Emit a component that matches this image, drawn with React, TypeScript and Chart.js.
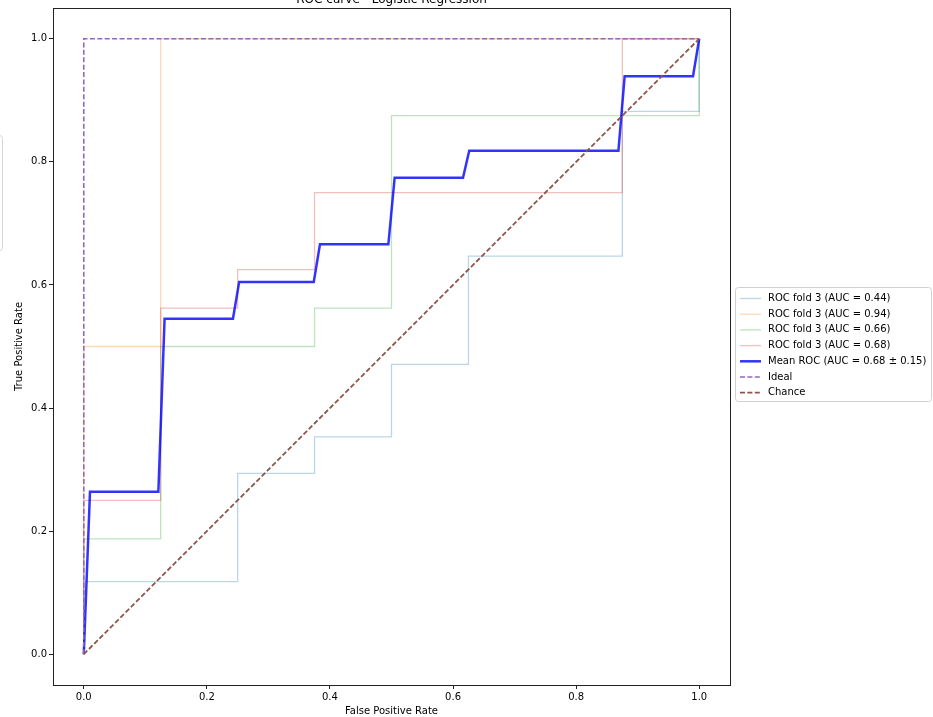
import React, { useEffect, useRef } from "react";
import { Chart, registerables } from "chart.js";

Chart.register(...registerables);

const titleText = "ROC curve - Logistic Regression";
const xLabel = "False Positive Rate";
const yLabel = "True Positive Rate";
const tickValues = [0, 0.2, 0.4, 0.6, 0.8, 1.0];

const fold1Fpr = [0, 0, 0.25, 0.25, 0.375, 0.375, 0.5, 0.5, 0.625, 0.625, 0.875, 0.875, 1, 1];
const fold1Tpr = [0, 0.118, 0.118, 0.294, 0.294, 0.353, 0.353, 0.471, 0.471, 0.647, 0.647, 0.882, 0.882, 1];
const fold2Fpr = [0, 0, 0.125, 0.125, 1];
const fold2Tpr = [0, 0.5, 0.5, 1, 1];
const fold3Fpr = [0, 0, 0.125, 0.125, 0.375, 0.375, 0.5, 0.5, 1, 1];
const fold3Tpr = [0, 0.1875, 0.1875, 0.5, 0.5, 0.5625, 0.5625, 0.875, 0.875, 1];
const fold4Fpr = [0, 0, 0.125, 0.125, 0.25, 0.25, 0.375, 0.375, 0.875, 0.875, 1];
const fold4Tpr = [0, 0.25, 0.25, 0.5625, 0.5625, 0.625, 0.625, 0.75, 0.75, 1, 1];
const meanFpr = [0, 0.0101, 0.1212, 0.1313, 0.2424, 0.2525, 0.3737, 0.3838, 0.4949, 0.5051, 0.6162, 0.6263, 0.8687, 0.8788, 0.9899, 1];
const meanTpr = [0, 0.264, 0.264, 0.545, 0.545, 0.605, 0.605, 0.666, 0.666, 0.774, 0.774, 0.818, 0.818, 0.939, 0.939, 1];
const idealFpr = [0, 0, 1];
const idealTpr = [0, 1, 1];
const chanceFpr = [0, 1];
const chanceTpr = [0, 1];

const seriesLabels = [
  "ROC fold 3 (AUC = 0.44)",
  "ROC fold 3 (AUC = 0.94)",
  "ROC fold 3 (AUC = 0.66)",
  "ROC fold 3 (AUC = 0.68)",
  "Mean ROC (AUC = 0.68 \u00b1 0.15)",
  "Ideal",
  "Chance",
];
const seriesColors = [
  "rgba(31,119,180,0.3)",
  "rgba(255,127,14,0.3)",
  "rgba(44,160,44,0.3)",
  "rgba(214,39,40,0.3)",
  "rgba(0,0,255,0.8)",
  "#9467bd",
  "#8c564b",
];
const seriesWidths = [1.3, 1.3, 1.3, 1.3, 2.5, 1.6, 1.8];
const seriesDashed = [false, false, false, false, false, true, true];

const FONT = "'DejaVu Sans', sans-serif";

function pts(xs: number[], ys: number[]) {
  return xs.map((x, i) => ({ x, y: ys[i] }));
}

const decorPlugin = {
  id: "decor",
  afterDraw(chart: any) {
    const { ctx, chartArea } = chart;
    const { left, right, top, bottom } = chartArea;
    ctx.save();
    // spines
    ctx.strokeStyle = "#222";
    ctx.lineWidth = 1;
    ctx.setLineDash([]);
    ctx.strokeRect(Math.round(left) + 0.5, Math.round(top) + 0.5, Math.round(right - left), Math.round(bottom - top));
    // title
    ctx.fillStyle = "#000";
    ctx.font = `12px ${FONT}`;
    ctx.textAlign = "center";
    ctx.textBaseline = "alphabetic";
    ctx.fillText(titleText, (left + right) / 2, 3);
    // stray clipped legend box on the left
    ctx.strokeStyle = "#d6d6d6";
    ctx.beginPath();
    ctx.roundRect(-30.5, 135.5, 33, 115, 3);
    ctx.stroke();
    // legend
    const lx = 735.5, ly = 287.5, lw = 196, lh = 114;
    ctx.fillStyle = "rgba(255,255,255,0.8)";
    ctx.strokeStyle = "#d0d0d0";
    ctx.beginPath();
    ctx.roundRect(lx, ly, lw, lh, 3);
    ctx.fill();
    ctx.stroke();
    ctx.font = `10px ${FONT}`;
    ctx.textAlign = "left";
    ctx.textBaseline = "middle";
    for (let i = 0; i < seriesLabels.length; i++) {
      const cy = 298.5 + i * 15.7;
      ctx.strokeStyle = seriesColors[i];
      ctx.lineWidth = seriesWidths[i];
      ctx.setLineDash(seriesDashed[i] ? [5, 2.4] : []);
      ctx.beginPath();
      ctx.moveTo(740, cy);
      ctx.lineTo(761, cy);
      ctx.stroke();
      ctx.setLineDash([]);
      ctx.fillStyle = "#000";
      ctx.fillText(seriesLabels[i], 768, cy);
    }
    ctx.restore();
  },
};

export default function App() {
  const ref = useRef<HTMLCanvasElement | null>(null);
  useEffect(() => {
    if (!ref.current) return;
    const xs = [fold1Fpr, fold2Fpr, fold3Fpr, fold4Fpr, meanFpr, idealFpr, chanceFpr];
    const ys = [fold1Tpr, fold2Tpr, fold3Tpr, fold4Tpr, meanTpr, idealTpr, chanceTpr];
    const n = xs.length;
    const datasets = xs.map((x, i) => ({
      label: seriesLabels[i],
      data: pts(x, ys[i]),
      borderColor: seriesColors[i],
      backgroundColor: seriesColors[i],
      borderWidth: seriesWidths[i],
      borderDash: seriesDashed[i] ? [5, 2.4] : [],
      pointRadius: 0,
      showLine: true,
      tension: 0,
      fill: false,
      order: n - 1 - i,
    }));
    const tickCfg = (pad: number) => ({
      color: "#000",
      padding: pad,
      font: { family: FONT, size: 10 },
      callback: (v: any) => Number(v).toFixed(1),
    });
    const chart = new Chart(ref.current, {
      type: "scatter",
      data: { datasets: datasets as any },
      options: {
        animation: false,
        responsive: false,
        devicePixelRatio: 1,
        layout: { padding: { left: 0, top: 7, right: 203, bottom: 0 } },
        plugins: { legend: { display: false }, tooltip: { enabled: false }, title: { display: false } },
        scales: {
          x: {
            type: "linear",
            min: -0.05,
            max: 1.05,
            afterBuildTicks: (s: any) => {
              s.ticks = tickValues.map((v) => ({ value: v }));
            },
            afterFit: (s: any) => {
              s.height = 32;
            },
            grid: { display: true, drawOnChartArea: false, drawTicks: true, tickLength: 4, color: "#222" },
            border: { display: false },
            ticks: tickCfg(2) as any,
            title: { display: true, text: xLabel, color: "#000", font: { family: FONT, size: 10 }, padding: { top: 0, bottom: 0 } },
          },
          y: {
            type: "linear",
            min: -0.05,
            max: 1.05,
            afterBuildTicks: (s: any) => {
              s.ticks = tickValues.map((v) => ({ value: v }));
            },
            afterFit: (s: any) => {
              s.width = 53;
            },
            grid: { display: true, drawOnChartArea: false, drawTicks: true, tickLength: 4, color: "#222" },
            border: { display: false },
            ticks: tickCfg(2) as any,
            title: { display: true, text: yLabel, color: "#000", font: { family: FONT, size: 10 }, padding: { top: 13, bottom: 0 } },
          },
        },
      },
      plugins: [decorPlugin],
    });
    return () => chart.destroy();
  }, []);
  return (
    <div style={{ position: "absolute", left: 0, top: 0, width: 933, height: 717, background: "#fff" }}>
      <canvas ref={ref} width={933} height={717} style={{ display: "block" }} />
    </div>
  );
}
